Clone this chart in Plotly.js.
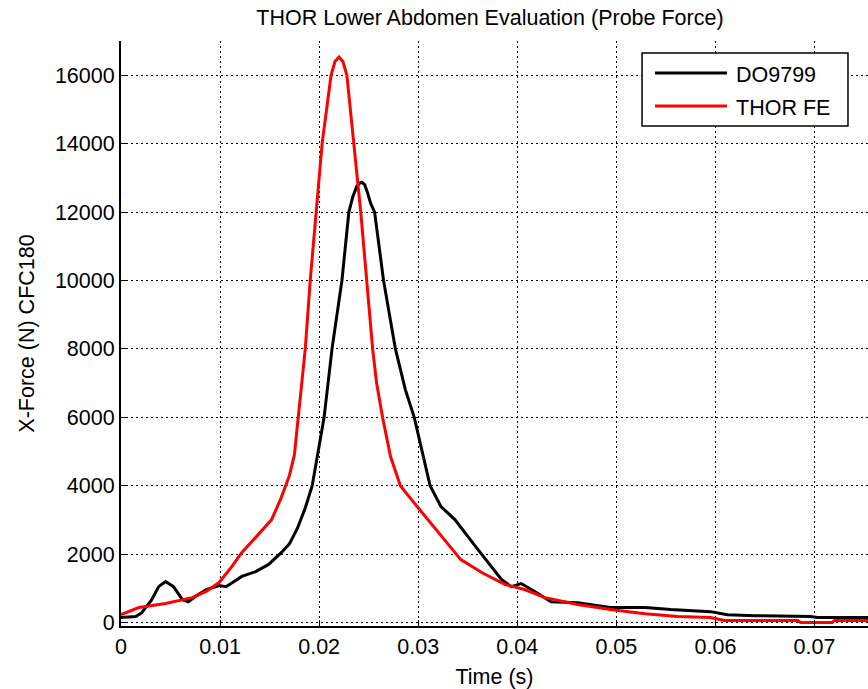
<!DOCTYPE html>
<html>
<head>
<meta charset="utf-8">
<script src="https://cdn.plot.ly/plotly-3.0.1.min.js"></script>
<style>html,body{margin:0;padding:0;background:#fff;}#chart{width:868px;height:689px;}</style>
</head>
<body>
<div id="chart"></div>
<script>
// DO9799 (test) probe force
const tDO = [0, 0.0015, 0.0021, 0.0031, 0.0038, 0.0045, 0.0053, 0.0062, 0.0068, 0.0075, 0.0086, 0.0099, 0.0106, 0.0122, 0.0136, 0.0149, 0.0162, 0.0170, 0.0178, 0.0186, 0.0193, 0.0199, 0.0205, 0.0213, 0.0223, 0.0230, 0.0234, 0.0238, 0.0241, 0.0243, 0.0246, 0.0249, 0.0252, 0.0256, 0.0260, 0.0265, 0.0277, 0.0287, 0.0296, 0.0304, 0.0312, 0.0323, 0.0337, 0.0358, 0.0368, 0.0384, 0.0394, 0.0404, 0.0418, 0.0434, 0.0461, 0.0494, 0.0529, 0.0555, 0.0595, 0.0612, 0.0640, 0.0696, 0.0703, 0.0754];
const fDO = [150, 175, 290, 670, 1050, 1200, 1050, 670, 610, 760, 960, 1080, 1050, 1350, 1490, 1700, 2050, 2300, 2750, 3350, 4000, 4950, 6000, 8000, 10000, 12000, 12450, 12750, 12850, 12870, 12800, 12550, 12250, 12000, 11100, 10000, 8000, 6810, 6000, 5000, 4000, 3390, 3010, 2220, 1840, 1260, 1050, 1140, 900, 610, 580, 440, 440, 380, 320, 230, 200, 180, 150, 150];

// THOR FE (model) probe force
const tFE = [0, 0.0018, 0.0045, 0.0072, 0.0086, 0.0099, 0.0112, 0.0122, 0.0136, 0.0152, 0.0161, 0.0170, 0.0175, 0.0179, 0.0186, 0.0191, 0.0197, 0.0203, 0.0212, 0.0216, 0.0220, 0.0224, 0.0228, 0.0235, 0.0242, 0.0248, 0.0254, 0.0258, 0.0264, 0.0272, 0.0282, 0.0293, 0.0307, 0.0320, 0.0333, 0.0343, 0.0365, 0.0388, 0.0408, 0.0428, 0.0461, 0.0494, 0.0529, 0.0562, 0.0595, 0.0609, 0.0683, 0.0686, 0.0718, 0.0720, 0.0754];
const fFE = [230, 440, 560, 730, 910, 1170, 1640, 2050, 2490, 3010, 3600, 4300, 4900, 6000, 8000, 10000, 12000, 14000, 16000, 16400, 16530, 16400, 16000, 14000, 12000, 10000, 8000, 7000, 6000, 4860, 4000, 3600, 3100, 2630, 2190, 1840, 1450, 1110, 960, 730, 530, 380, 260, 180, 150, 60, 60, 0, 0, 60, 60];

const seriesNames = ['DO9799', 'THOR FE'];
const seriesColors = ['#000000', '#ff0000'];
const xTicks = [0, 0.01, 0.02, 0.03, 0.04, 0.05, 0.06, 0.07];
const xTickText = ['0', '0.01', '0.02', '0.03', '0.04', '0.05', '0.06', '0.07'];
const yTicks = [0, 2000, 4000, 6000, 8000, 10000, 12000, 14000, 16000];
const yTickText = ['0', '2000', '4000', '6000', '8000', '10000', '12000', '14000', '16000'];

const FONT = 'Liberation Sans, Arial, sans-serif';
const FS = 21.5;

const traces = [
  {x: tDO, y: fDO, name: seriesNames[0], type: 'scatter', mode: 'lines',
   line: {color: seriesColors[0], width: 3}},
  {x: tFE, y: fFE, name: seriesNames[1], type: 'scatter', mode: 'lines',
   line: {color: seriesColors[1], width: 3}}
];

// Hand-built legend box (MATLAB style, long line samples)
const lx0 = 0.6975, lx1 = 0.9732, ly0 = 0.8547, ly1 = 0.9795;
const sx0 = 0.7149, sx1 = 0.8112, tx = 0.8246;
const rowY = [0.9453, 0.8889];
const shapes = [
  {type: 'rect', xref: 'paper', yref: 'paper', x0: lx0, x1: lx1, y0: ly0, y1: ly1,
   line: {color: '#000', width: 1.5}, fillcolor: '#fff', layer: 'above'}
];
const annotations = [];
seriesNames.forEach((n, i) => {
  shapes.push({type: 'line', xref: 'paper', yref: 'paper', x0: sx0, x1: sx1, y0: rowY[i], y1: rowY[i],
    line: {color: seriesColors[i], width: 3}, layer: 'above'});
  annotations.push({xref: 'paper', yref: 'paper', x: tx - 0.004, y: rowY[i] - 0.004, xanchor: 'left', yanchor: 'middle',
    text: n, showarrow: false, font: {family: FONT, size: FS, color: '#000'}});
});

const layout = {
  width: 868, height: 689,
  margin: {l: 121, r: 0, t: 41, b: 63},
  paper_bgcolor: '#fff', plot_bgcolor: '#fff',
  showlegend: false,
  font: {family: FONT, size: FS, color: '#000'},
  title: {text: 'THOR Lower Abdomen Evaluation (Probe Force)', x: 0.5645, xanchor: 'center',
          y: 0.974, yanchor: 'middle', font: {family: FONT, size: FS, color: '#000'}},
  xaxis: {
    range: [0, 0.0754], tickvals: xTicks, ticktext: xTickText,
    ticks: 'inside', ticklen: 6, tickcolor: '#000', tickwidth: 1,
    showline: true, linecolor: '#000', linewidth: 2, mirror: false,
    showgrid: true, gridcolor: '#000', gridwidth: 1, griddash: '2px,3px',
    zeroline: false, automargin: false,
    tickfont: {family: FONT, size: FS, color: '#000'},
    title: {text: 'Time (s)', font: {family: FONT, size: FS, color: '#000'}, standoff: 12}
  },
  yaxis: {
    range: [-100, 17000], tickvals: yTicks, ticktext: yTickText,
    ticks: 'inside', ticklen: 6, tickcolor: '#000', tickwidth: 1,
    showline: true, linecolor: '#000', linewidth: 2, mirror: false,
    showgrid: true, gridcolor: '#000', gridwidth: 1, griddash: '2px,3px',
    zeroline: false, automargin: false,
    tickfont: {family: FONT, size: FS, color: '#000'},
    title: {text: 'X-Force (N) CFC180', font: {family: FONT, size: FS, color: '#000'}, standoff: 14}
  },
  shapes: shapes,
  annotations: annotations
};

Plotly.newPlot('chart', traces, layout, {displayModeBar: false, staticPlot: true});
</script>
</body>
</html>
